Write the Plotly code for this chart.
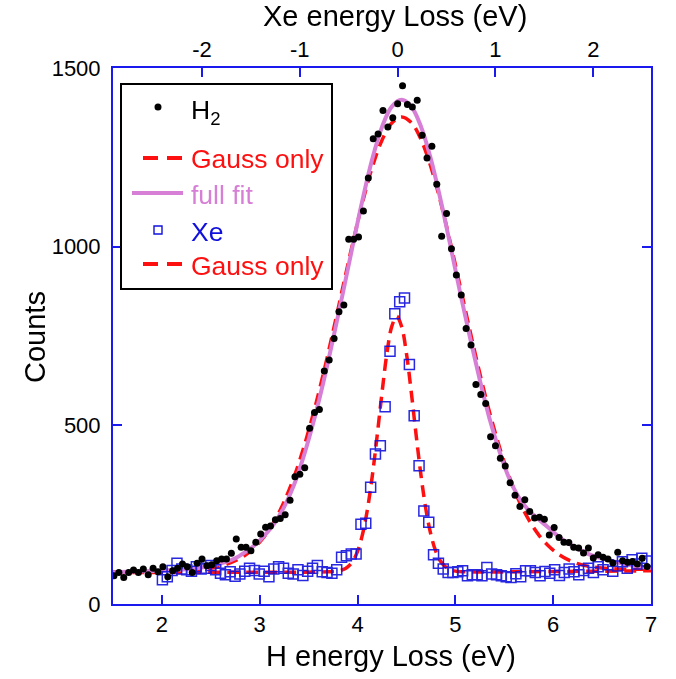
import plotly.graph_objects as go

# ---------------- data ----------------
h2_x = [1.51,1.56,1.61,1.66,1.71,1.76,1.81,1.86,1.91,1.96,
        2.01,2.06,2.11,2.16,2.21,2.26,2.31,2.36,2.41,2.46,
        2.51,2.56,2.61,2.66,2.71,2.76,2.81,2.86,2.91,2.96,
        3.01,3.06,3.11,3.16,3.21,3.26,3.31,3.36,3.41,3.46,
        3.51,3.56,3.61,3.66,3.71,3.76,3.81,3.86,3.91,3.96,
        4.01,4.06,4.11,4.16,4.21,4.26,4.31,4.36,4.41,4.46,
        4.51,4.56,4.61,4.66,4.71,4.76,4.81,4.86,4.91,4.96,
        5.01,5.06,5.11,5.16,5.21,5.26,5.31,5.36,5.41,5.46,
        5.51,5.56,5.61,5.66,5.71,5.76,5.81,5.86,5.91,5.96,
        6.01,6.06,6.11,6.16,6.21,6.26,6.31,6.36,6.41,6.46,
        6.51,6.56,6.61,6.66,6.71,6.76,6.81,6.86,6.91,6.96]
h2_y = [79,88,74,88,95,88,98,82,100,90,
        104,76,93,100,112,104,88,114,126,107,
        110,121,126,126,142,182,159,159,149,173,
        196,215,218,236,239,250,290,356,363,381,
        492,536,544,652,683,743,818,837,1021,1021,
        1027,1100,1192,1302,1315,1381,1335,1361,1400,1450,
        1398,1391,1410,1312,1248,1281,1175,1029,1093,994,
        921,865,771,725,614,586,561,468,443,408,
        386,339,304,273,292,259,241,243,237,193,
        214,186,173,172,159,157,143,157,129,138,
        131,126,115,145,121,117,119,112,128,105]

xe_x = [2.005,2.055,2.104,2.154,2.203,2.253,2.302,2.352,2.401,2.451,
        2.500,2.550,2.599,2.649,2.698,2.748,2.797,2.847,2.896,2.946,
        2.995,3.045,3.094,3.144,3.193,3.243,3.292,3.342,3.391,3.441,
        3.490,3.540,3.589,3.639,3.688,3.738,3.787,3.837,3.886,3.936,
        3.985,4.035,4.084,4.134,4.183,4.233,4.282,4.332,4.381,4.431,
        4.480,4.530,4.579,4.629,4.678,4.728,4.777,4.827,4.876,4.926,
        4.975,5.025,5.074,5.124,5.173,5.223,5.272,5.322,5.371,5.421,
        5.470,5.520,5.569,5.619,5.668,5.718,5.767,5.817,5.866,5.916,
        5.965,6.015,6.064,6.114,6.163,6.213,6.262,6.312,6.361,6.411,
        6.460,6.510,6.559,6.609,6.658,6.708,6.757,6.807,6.856,6.906,
        6.955]
xe_y = [68,76,94,114,98,96,92,104,98,100,
        108,96,86,82,90,78,84,92,100,94,
        84,92,76,98,104,100,86,84,96,80,
        92,100,108,90,88,86,96,131,135,140,
        140,223,226,327,420,443,552,707,812,846,
        856,670,527,387,260,229,138,114,98,88,
        88,90,93,79,82,82,79,102,84,82,
        79,76,74,85,76,93,93,88,79,91,
        86,96,80,88,98,90,82,94,100,88,
        104,96,110,92,106,118,100,124,112,128,
        120]

h2_gauss_x = [1.5,1.95,2.45,2.55,2.65,2.75,2.85,2.95,3.05,3.15,3.25,3.35,3.45,3.55,3.65,3.75,
              3.85,3.95,4.05,4.15,4.25,4.35,4.45,4.55,4.65,4.75,4.85,4.95,5.05,5.15,5.25,
              5.35,5.45,5.55,5.65,5.75,5.85,5.95,6.05,6.15,6.25,6.35,6.45,6.65,6.85,7.0]
h2_gauss_y = [90,91,98,103,110,121,136,159,190,232,287,355,438,535,644,763,
              887,1009,1123,1222,1298,1346,1363,1347,1299,1223,1124,1010,888,764,645,
              536,440,357,289,236,194,163,140,124,113,106,102,98,97,97]

h2_full_x = [1.5,1.95,2.25,2.45,2.65,2.75,2.85,2.95,3.05,3.15,3.25,3.35,3.45,3.55,3.65,3.75,
             3.85,3.95,4.05,4.15,4.25,4.35,4.45,4.55,4.65,4.75,4.85,4.95,5.05,5.15,5.25,
             5.35,5.45,5.55,5.65,5.75,5.85,5.95,6.05,6.15,6.25,6.35,6.45,6.65,6.85,7.0]
h2_full_y = [89,93,97,104,117,128,145,165,192,226,272,333,414,510,620,742,
             870,1002,1130,1245,1335,1392,1411,1392,1335,1245,1130,1002,870,745,627,
             518,428,352,298,262,237,214,190,170,155,141,131,117,106,101]

xe_gauss_x = [1.5,3.0,3.7,3.8,3.85,3.9,3.95,4.0,4.05,4.1,4.15,4.2,4.25,4.3,4.35,4.4,
              4.45,4.5,4.55,4.6,4.65,4.7,4.75,4.8,4.85,4.9,4.95,5.0,5.1,6.0,7.0]
xe_gauss_y = [88,89,90,92,96,104,119,147,194,263,357,470,591,701,777,805,
              777,701,591,470,357,263,194,147,119,104,96,92,90,91,93]

x_ticks = [2, 3, 4, 5, 6, 7]
xe_ticks = [-2, -1, 0, 1, 2]
xe_tick_text = ["-2", "-1", "0", "1", "2"]
y_ticks = [0, 500, 1000, 1500]
XE_OFFSET = 4.41
X_RANGE = [1.5, 7.0]
Y_RANGE = [0, 1500]

# ---------------- styling ----------------
FONT = "Liberation Sans, Arial, sans-serif"
AXIS_BLUE = "#1a1aee"
RED = "#ff1010"
ORCHID = "#d77fd6"
XE_BLUE = "#1010dd"
DASH = "12px,7px"

W, H = 676, 679
ML, MR, MT, MB = 113, 25, 68, 75
PW, PH = W - ML - MR, H - MT - MB


def px(xp):
    return (xp - ML) / PW


def py(yp):
    return (H - MB - yp) / PH


fig = go.Figure()
fig.add_trace(go.Scatter(x=h2_gauss_x, y=h2_gauss_y, mode="lines", line_shape="spline",
                         line=dict(color=RED, width=3.5, dash=DASH), showlegend=False))
fig.add_trace(go.Scatter(x=xe_gauss_x, y=xe_gauss_y, mode="lines", line_shape="spline",
                         line=dict(color=RED, width=3.5, dash=DASH), showlegend=False))
fig.add_trace(go.Scatter(x=h2_full_x, y=h2_full_y, mode="lines", line_shape="spline",
                         line=dict(color=ORCHID, width=4), showlegend=False))
fig.add_trace(go.Scatter(x=xe_x, y=xe_y, mode="markers",
                         marker=dict(symbol="square-open", size=10, color=XE_BLUE,
                                     line=dict(width=1.5, color=XE_BLUE)),
                         opacity=0.9, showlegend=False))
fig.add_trace(go.Scatter(x=h2_x, y=h2_y, mode="markers",
                         marker=dict(symbol="circle", size=7, color="black"),
                         showlegend=False))
# invisible trace to register the top (Xe) axis
fig.add_trace(go.Scatter(x=[X_RANGE[0] - XE_OFFSET], y=[Y_RANGE[0]], xaxis="x2",
                         mode="markers", marker=dict(opacity=0), showlegend=False,
                         hoverinfo="skip"))

axis_common = dict(showline=True, linecolor=AXIS_BLUE, linewidth=2, ticks="inside",
                   ticklen=9, tickwidth=1.5, tickcolor=AXIS_BLUE, showgrid=False,
                   zeroline=False, tickfont=dict(family=FONT, size=22, color="black"))

fig.update_layout(
    width=W, height=H, margin=dict(l=ML, r=MR, t=MT, b=MB),
    plot_bgcolor="white", paper_bgcolor="white", showlegend=False,
    font=dict(family=FONT, color="black"),
    xaxis=dict(range=X_RANGE, tickvals=x_ticks, **axis_common),
    xaxis2=dict(range=[X_RANGE[0] - XE_OFFSET, X_RANGE[1] - XE_OFFSET], overlaying="x",
                side="top", anchor="y", tickvals=xe_ticks, ticktext=xe_tick_text,
                **axis_common),
    yaxis=dict(range=Y_RANGE, tickvals=y_ticks, mirror="ticks", ticklabelstandoff=6,
               **axis_common),
)

TITLE_SIZE = 29
ann = []
ann.append(dict(text="H energy Loss (eV)", x=px(391), y=py(656), xref="paper", yref="paper",
                showarrow=False, font=dict(family=FONT, size=TITLE_SIZE, color="black"),
                xanchor="center", yanchor="middle"))
ann.append(dict(text="Xe energy Loss (eV)", x=px(395), y=py(16), xref="paper", yref="paper",
                showarrow=False, font=dict(family=FONT, size=TITLE_SIZE, color="black"),
                xanchor="center", yanchor="middle"))
ann.append(dict(text="Counts", x=px(35), y=py(337), xref="paper", yref="paper",
                showarrow=False, textangle=-90,
                font=dict(family=FONT, size=TITLE_SIZE, color="black"),
                xanchor="center", yanchor="middle"))

# ---------------- legend (drawn by hand) ----------------
shapes = []
shapes.append(dict(type="rect", xref="paper", yref="paper", x0=px(121), x1=px(332),
                   y0=py(289), y1=py(84), line=dict(color="black", width=2),
                   fillcolor="white", layer="above"))
shapes.append(dict(type="circle", xref="paper", yref="paper", xsizemode="pixel",
                   ysizemode="pixel", xanchor=px(158), yanchor=py(107), x0=-3.5, x1=3.5,
                   y0=-3.5, y1=3.5, fillcolor="black", line=dict(color="black", width=0),
                   layer="above"))
shapes.append(dict(type="line", xref="paper", yref="paper", x0=px(143), x1=px(182),
                   y0=py(158), y1=py(158), line=dict(color=RED, width=4, dash="15px,9px"),
                   layer="above"))
shapes.append(dict(type="line", xref="paper", yref="paper", x0=px(132), x1=px(183),
                   y0=py(193), y1=py(193), line=dict(color=ORCHID, width=4), layer="above"))
shapes.append(dict(type="rect", xref="paper", yref="paper", xsizemode="pixel",
                   ysizemode="pixel", xanchor=px(158), yanchor=py(230), x0=-4, x1=4,
                   y0=-4, y1=4, fillcolor="rgba(0,0,0,0)", line=dict(color=XE_BLUE, width=1.4),
                   layer="above"))
shapes.append(dict(type="line", xref="paper", yref="paper", x0=px(143), x1=px(182),
                   y0=py(264), y1=py(264), line=dict(color=RED, width=4, dash="15px,9px"),
                   layer="above"))

leg_font = 26.5
legend_rows = [
    ("H<sub>2</sub>", "black", 112),
    ("Gauss only", RED, 159),
    ("full fit", ORCHID, 195),
    ("Xe", XE_BLUE, 232),
    ("Gauss only", RED, 266),
]
for txt, col, yc in legend_rows:
    ann.append(dict(text=txt, x=px(189), y=py(yc), xref="paper", yref="paper",
                    showarrow=False, font=dict(family=FONT, size=leg_font, color=col),
                    xanchor="left", yanchor="middle"))

fig.update_layout(annotations=ann, shapes=shapes)
fig.write_html("out.html", config={"displayModeBar": False},
               post_script="document.body.style.margin='0px';document.body.style.padding='0px';")
